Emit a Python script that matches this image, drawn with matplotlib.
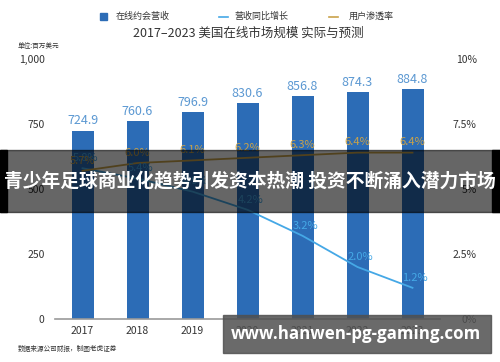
import matplotlib
matplotlib.use('Agg')
import matplotlib.pyplot as plt
from matplotlib.patches import Rectangle

plt.rcParams['font.family'] = ['Noto Sans CJK SC', 'DejaVu Sans']

# data
years = ['2017', '2018', '2019', '2020', '2021', '2022', '2023']
revenue = [724.9, 760.6, 796.9, 830.6, 856.8, 874.3, 884.8]
growth = [5.8, 5.4, 4.9, 4.2, 3.2, 2.0, 1.2]
penetration = [5.7, 6.0, 6.1, 6.2, 6.3, 6.4, 6.4]
left_ticks = [0, 250, 500, 750, 1000]
left_labels = ['0', '250', '500', '750', '1,000']
right_ticks = [0, 2.5, 5, 7.5, 10]
right_labels = ['0%', '2.5%', '5%', '7.5%', '10%']

W, H = 500, 362
fig = plt.figure(figsize=(5, 3.62), dpi=100)
ax = fig.add_axes([55 / W, 1 - 319 / H, 385 / W, 260 / H])
ax2 = ax.twinx()

bar_c = '#2c6cb6'
grow_c = '#45a8e6'
pen_c = '#c9a24a'

x = range(len(years))
ax.bar(x, revenue, width=0.4, color=bar_c, zorder=2)
for i, v in enumerate(revenue):
    ax.text(i, v + 12, f'{v:.1f}', ha='center', va='bottom', fontsize=9,
            color='#5b98d2')

ax.set_xlim(-0.5, 6.5)
ax.set_ylim(0, 1000)
ax.set_xticks(list(x))
ax.set_xticklabels(years, fontsize=7.5, color='#333333')
ax.set_yticks(left_ticks)
ax.set_yticklabels(left_labels, fontsize=7.5, color='#333333')
ax.tick_params(axis='both', length=0)
ax.tick_params(axis='y', pad=7.5)
ax.tick_params(axis='x', pad=5)
for s in ['top', 'left', 'right']:
    ax.spines[s].set_visible(False)
ax.spines['bottom'].set_color('#999999')
ax.spines['bottom'].set_linewidth(1.2)

ax2.set_ylim(0, 10)
ax2.plot(list(x), growth, color=grow_c, lw=1.3, zorder=3)
ax2.plot(list(x), penetration, color=pen_c, lw=1.3, zorder=3)
for i, v in enumerate(growth):
    ax2.text(i + 0.05, v + 0.2, f'{v:.1f}%', ha='center', va='bottom',
             fontsize=8, color=grow_c)
for i, v in enumerate(penetration):
    ax2.text(i, v + 0.2, f'{v:.1f}%', ha='center', va='bottom',
             fontsize=8, color=pen_c)
ax2.set_yticks(right_ticks)
ax2.set_yticklabels(right_labels, fontsize=7.5, color='#333333', ha='right')
ax2.tick_params(axis='y', length=0, pad=26.5)
for s in ['top', 'left', 'right', 'bottom']:
    ax2.spines[s].set_visible(False)

# legend / titles
fig.text(133 / W, 1 - 33 / H, '2017–2023 美国在线市场规模 实际与预测',
         fontsize=9, color='#333333', va='center', ha='left')
fig.patches.append(Rectangle((100 / W, 1 - 20 / H), 7 / W, 7 / H,
                             transform=fig.transFigure, color=bar_c))
fig.text(116 / W, 1 - 16.5 / H, '在线约会营收', fontsize=6.5, color='#333333', va='center')
fig.add_artist(plt.Line2D([219 / W, 228 / W], [1 - 16.5 / H] * 2, color=grow_c, lw=1.2))
fig.text(234 / W, 1 - 16.5 / H, '营收同比增长', fontsize=6.5, color='#333333', va='center')
fig.add_artist(plt.Line2D([329 / W, 338 / W], [1 - 16.5 / H] * 2, color=pen_c, lw=1.2))
fig.text(349 / W, 1 - 16.5 / H, '用户渗透率', fontsize=6.5, color='#333333', va='center')
fig.text(18 / W, 1 - 46 / H, '单位:百万美元', fontsize=4.8, color='#333333', va='center')
fig.text(18 / W, 1 - 349 / H, '数据来源公司财报，制图老虎证券', fontsize=4.8,
         color='#333333', va='center')

# overlays
fig.patches.append(Rectangle((0, 1 - 212 / H), 1, 62 / H, transform=fig.transFigure,
                             color='black', alpha=0.6, zorder=10))
fig.patches.append(Rectangle((0, 1 - 212 / H), 7 / W, 62 / H, transform=fig.transFigure,
                             color='black', zorder=10))
fig.patches.append(Rectangle((492 / W, 1 - 212 / H), 8 / W, 62 / H, transform=fig.transFigure,
                             color='black', zorder=10))
fig.text(0.5, 1 - 181 / H, '青少年足球商业化趋势引发资本热潮 投资不断涌入潜力市场',
         fontsize=13.5, fontweight='bold', color='white', ha='center', va='center', zorder=11)
fig.patches.append(Rectangle((223 / W, 1 - 353 / H), 268 / W, 38 / H, transform=fig.transFigure,
                             color='#505050', alpha=0.85, zorder=10))
fig.text(356 / W, 1 - 334 / H, 'www.hanwen-pg-gaming.com', family='Open Sans',
         fontsize=12.2, fontweight='bold', color='white', ha='center', va='center', zorder=11)

fig.savefig('out.png', dpi=100)
